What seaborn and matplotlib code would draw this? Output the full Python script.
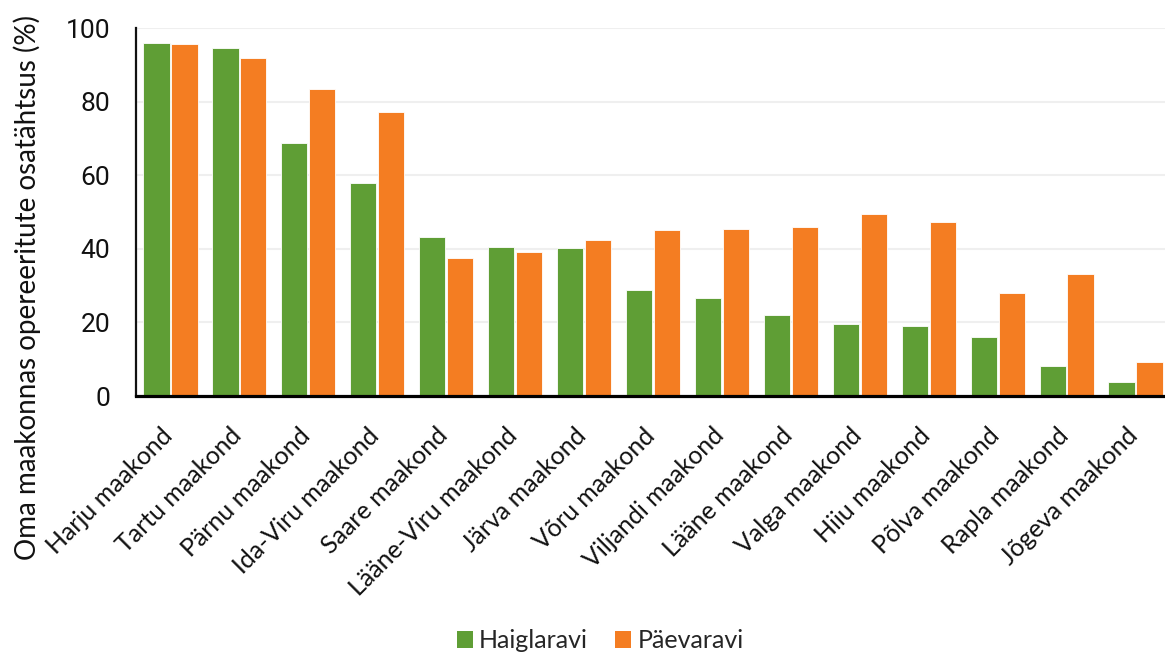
import matplotlib
matplotlib.use("Agg")
import matplotlib.pyplot as plt
import matplotlib.ticker as mticker
import matplotlib.transforms as mtransforms
from matplotlib.patches import Patch
import seaborn as sns
import pandas as pd

counties = [
    "Harju maakond", "Tartu maakond", "Pärnu maakond", "Ida-Viru maakond",
    "Saare maakond", "Lääne-Viru maakond", "Järva maakond", "Võru maakond",
    "Viljandi maakond", "Lääne maakond", "Valga maakond", "Hiiu maakond",
    "Põlva maakond", "Rapla maakond", "Jõgeva maakond",
]
haiglaravi = [95.9, 94.7, 68.8, 57.8, 43.1, 40.5, 40.3, 28.7, 26.5, 22.0,
              19.5, 19.0, 16.0, 8.1, 3.7]
paevaravi = [95.7, 91.8, 83.5, 77.3, 37.4, 39.1, 42.4, 45.0, 45.5, 45.9,
             49.5, 47.2, 27.9, 33.1, 9.2]
series_names = ["Haiglaravi", "Päevaravi"]
y_ticks = [0, 20, 40, 60, 80, 100]

colors = {"Haiglaravi": "#5F9E35", "Päevaravi": "#F47D22"}

df = pd.DataFrame({
    "maakond": counties * 2,
    "ravi": [series_names[0]] * len(counties) + [series_names[1]] * len(counties),
    "osatahtsus": haiglaravi + paevaravi,
})

sns.set_style("white")
plt.rcParams["font.family"] = ["Lato", "DejaVu Sans"]

W, H = 1165, 655
fig = plt.figure(figsize=(W / 100, H / 100), dpi=100)
ax = fig.add_axes([136 / W, 259 / H, 1034 / W, 368 / H])

sns.barplot(data=df, x="maakond", y="osatahtsus", hue="ravi",
            palette=colors, order=counties, hue_order=series_names,
            saturation=1, width=0.81, gap=0.06, edgecolor="white",
            linewidth=0.6, legend=False, ax=ax)

ax.set_xlim(-0.5, len(counties) - 0.5)
ax.set_ylim(0, 100)
ax.set_yticks(y_ticks)
ax.yaxis.grid(True, color="#efefef", linewidth=1.5)
ax.set_axisbelow(True)

# boundary ticks between categories, labels at the centres
ax.xaxis.set_major_locator(mticker.FixedLocator([i - 0.5 for i in range(len(counties) + 1)]))
ax.xaxis.set_major_formatter(mticker.NullFormatter())
ax.xaxis.set_minor_locator(mticker.FixedLocator(list(range(len(counties)))))
ax.xaxis.set_minor_formatter(mticker.FixedFormatter(counties))
ax.tick_params(axis="x", which="major", length=8, width=1.5, color="#222222", direction="out")
ax.tick_params(axis="x", which="minor", length=0, pad=20)
shift = mtransforms.ScaledTranslation(-10 / 100, 0, fig.dpi_scale_trans)
for lbl in ax.xaxis.get_minorticklabels():
    lbl.set_rotation(45)
    lbl.set_ha("right")
    lbl.set_va("top")
    lbl.set_rotation_mode("anchor")
    lbl.set_fontsize(18)
    lbl.set_color("#111111")
    lbl.set_transform(lbl.get_transform() + shift)

ax.tick_params(axis="y", length=9, width=1.5, color="#222222", direction="out", pad=9.5)
for lbl in ax.get_yticklabels():
    lbl.set_fontfamily(["Roboto", "DejaVu Sans"])
    lbl.set_fontsize(19)
    lbl.set_color("#111111")

for side in ("top", "right"):
    ax.spines[side].set_visible(False)
ax.spines["left"].set_linewidth(1.6)
ax.spines["left"].set_color("#111111")
ax.spines["bottom"].set_linewidth(2.3)
ax.spines["bottom"].set_color("#000000")

ax.set_xlabel("")
ax.set_ylabel("")
fig.text(27 / W, 1 - 287 / H, "Oma maakonnas opereeritute osatähtsus (%)",
         rotation=90, ha="center", va="center", fontsize=20, color="#111111")

handles = [Patch(facecolor=colors[n], edgecolor="none", label=n) for n in series_names]
fig.legend(handles=handles, loc="center", bbox_to_anchor=(600 / W, 1 - 641 / H),
           ncol=2, frameon=False, fontsize=18, handlelength=0.64, handleheight=0.64,
           handletextpad=0.25, columnspacing=1.1, borderpad=0)

fig.savefig("out.png", dpi=100)
